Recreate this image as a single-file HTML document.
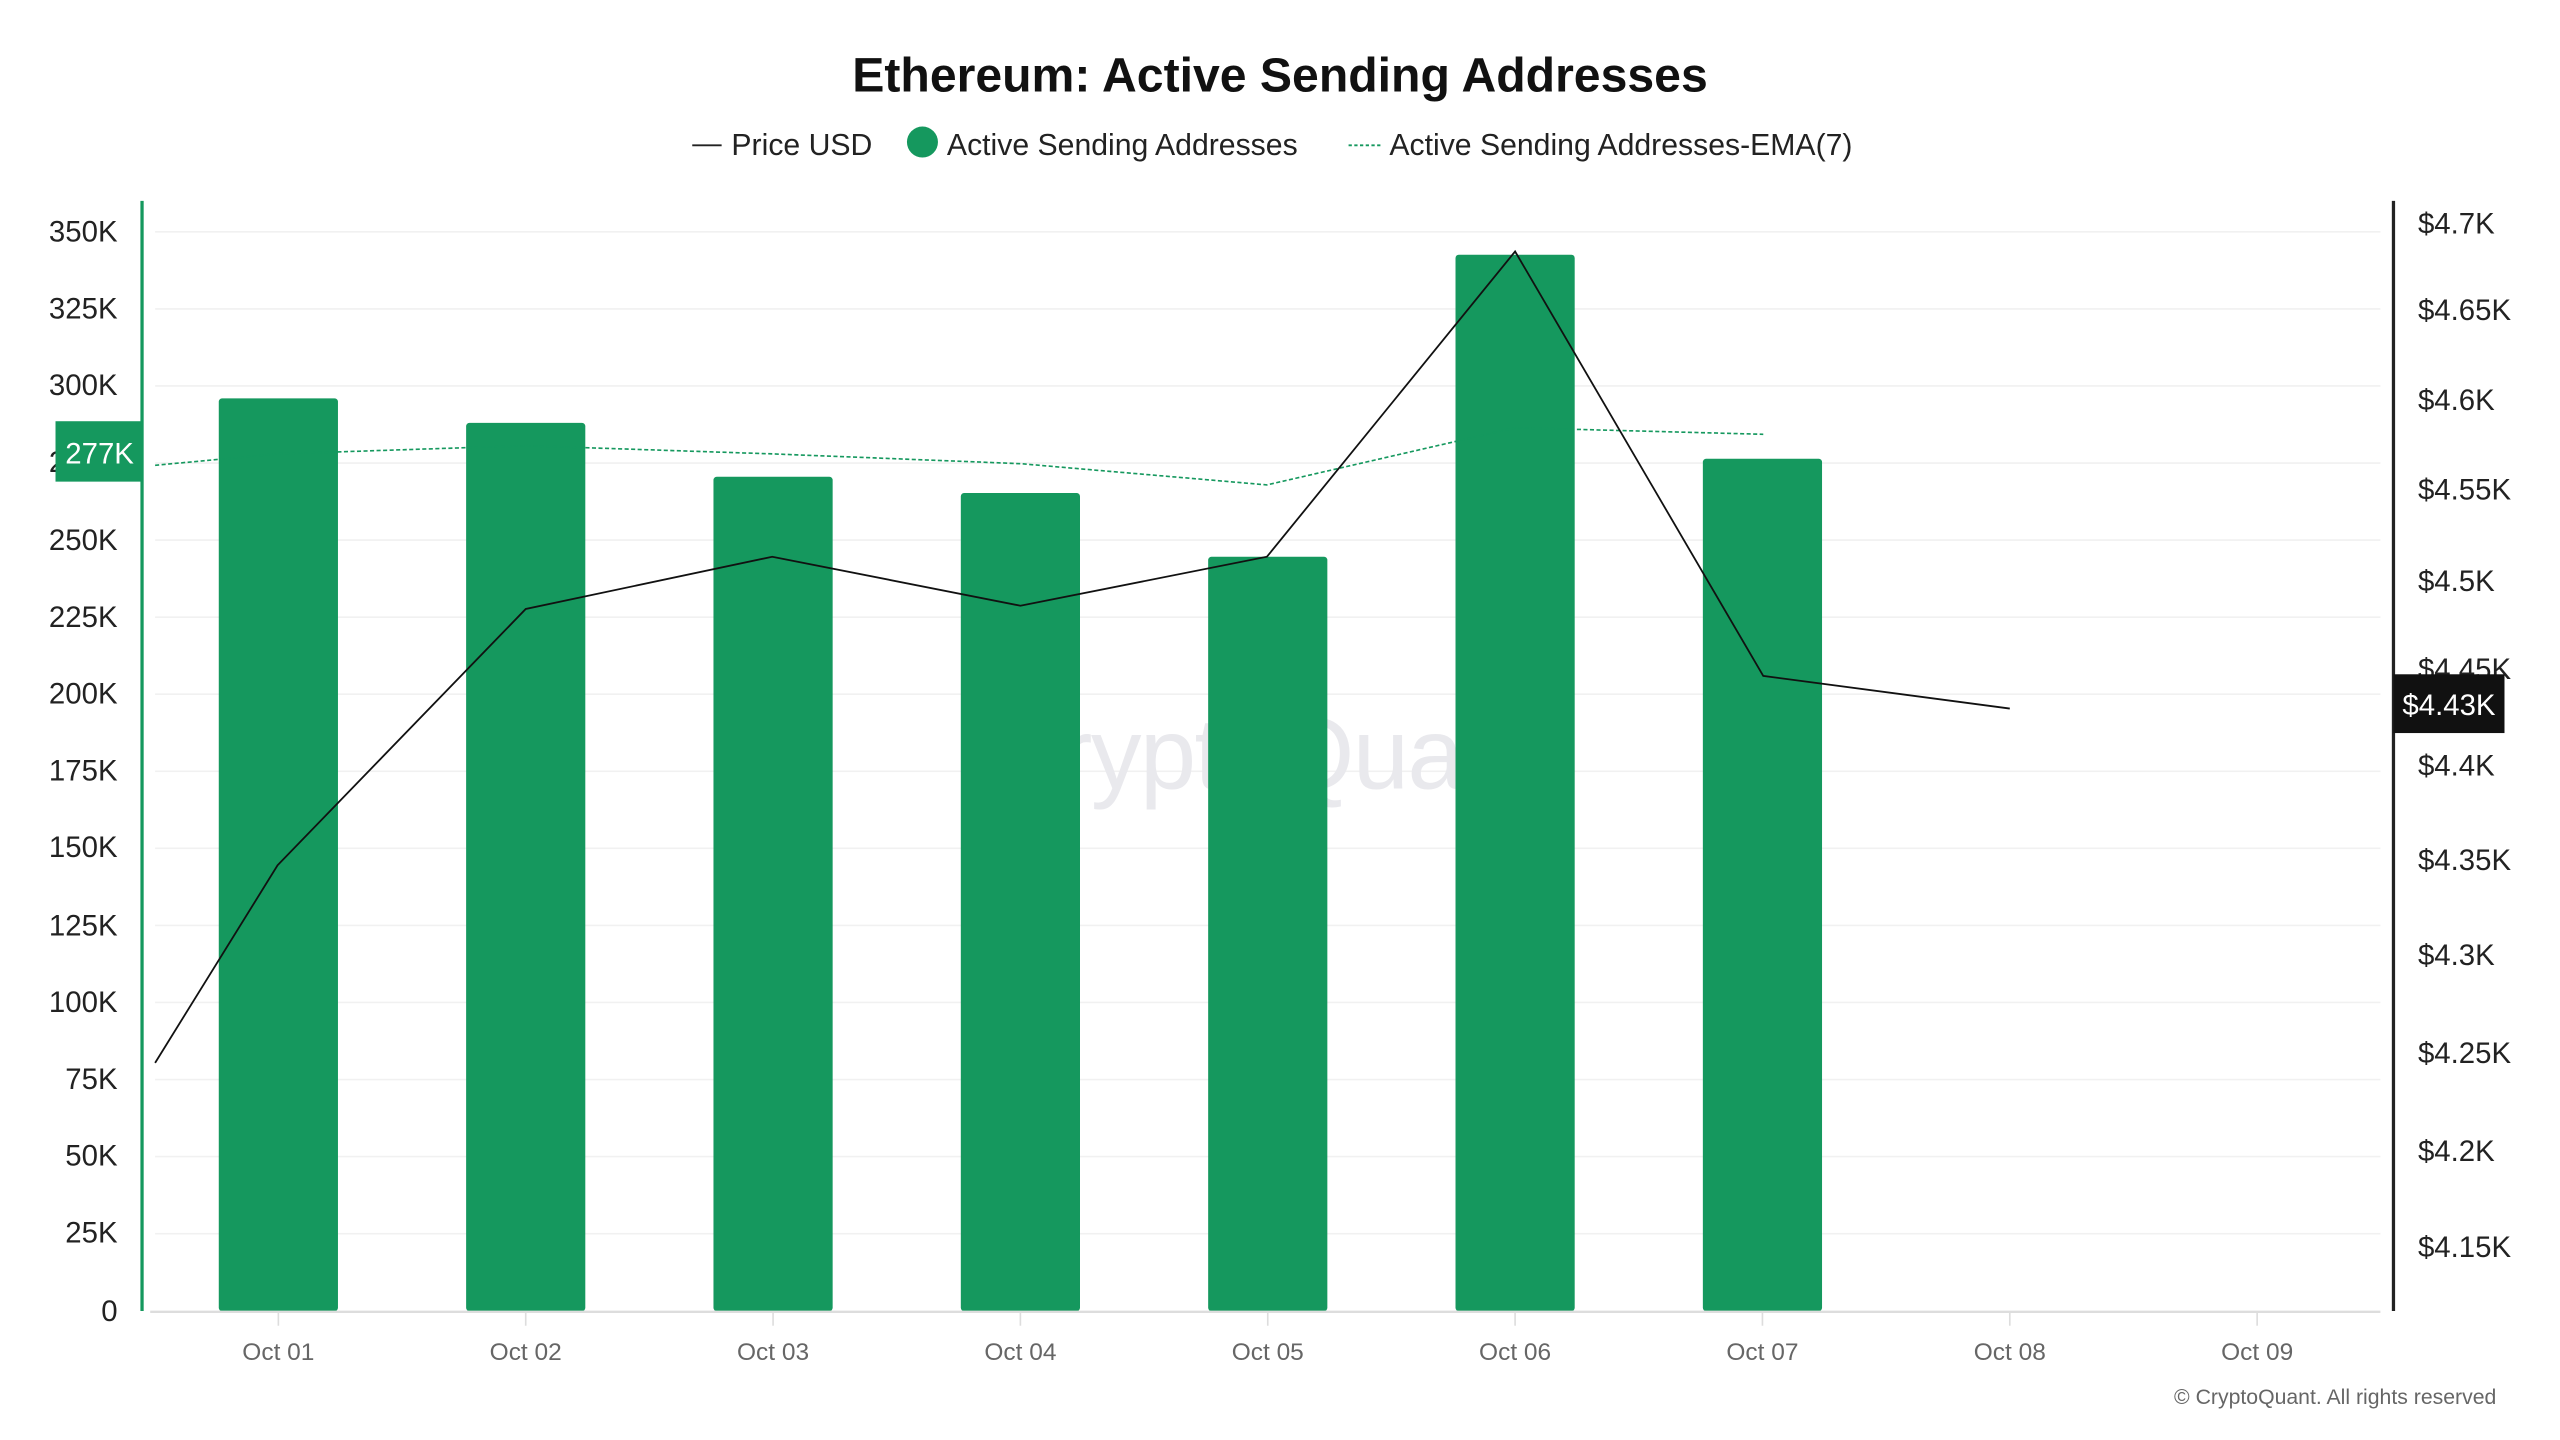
<!DOCTYPE html>
<html><head><meta charset="utf-8"><style>html,body{margin:0;padding:0;background:#fff}svg{display:block}text{font-family:"Liberation Sans",sans-serif}</style></head>
<body>
<svg width="2560" height="1440" viewBox="0 0 1568 882" preserveAspectRatio="none" xmlns="http://www.w3.org/2000/svg">
<rect width="1568" height="882" fill="#fff"/>
<text x="784" y="56" text-anchor="middle" font-size="29.5" font-weight="bold" fill="#111">Ethereum: Active Sending Addresses</text>
<line x1="424" y1="89" x2="442" y2="89" stroke="#222" stroke-width="1.2"/>
<text x="448" y="95" font-size="18.5" fill="#222">Price USD</text>
<circle cx="565" cy="87" r="9.5" fill="#15985e"/>
<text x="580" y="95" font-size="18.5" fill="#222">Active Sending Addresses</text>
<line x1="826" y1="89" x2="846" y2="89" stroke="#15985e" stroke-width="1.2" stroke-dasharray="2,1.5"/>
<text x="851" y="95" font-size="18.5" fill="#222">Active Sending Addresses-EMA(7)</text>
<g stroke="#f1f1f1" stroke-width="1">
<line x1="95" x2="1458" y1="142" y2="142"/><line x1="95" x2="1458" y1="189.2" y2="189.2"/><line x1="95" x2="1458" y1="236.4" y2="236.4"/><line x1="95" x2="1458" y1="283.6" y2="283.6"/><line x1="95" x2="1458" y1="330.8" y2="330.8"/><line x1="95" x2="1458" y1="378" y2="378"/><line x1="95" x2="1458" y1="425.2" y2="425.2"/><line x1="95" x2="1458" y1="472.4" y2="472.4"/><line x1="95" x2="1458" y1="519.6" y2="519.6"/><line x1="95" x2="1458" y1="566.8" y2="566.8"/><line x1="95" x2="1458" y1="614" y2="614"/><line x1="95" x2="1458" y1="661.2" y2="661.2"/><line x1="95" x2="1458" y1="708.4" y2="708.4"/><line x1="95" x2="1458" y1="755.6" y2="755.6"/>
</g>
<text x="775" y="483" text-anchor="middle" font-size="62" fill="#e9e9ed" letter-spacing="-1">CryptoQuant</text>
<g font-size="18" fill="#222" text-anchor="end">
<text x="72" y="148">350K</text><text x="72" y="195">325K</text><text x="72" y="242">300K</text><text x="72" y="289">275K</text><text x="72" y="337">250K</text><text x="72" y="384">225K</text><text x="72" y="431">200K</text><text x="72" y="478">175K</text><text x="72" y="525">150K</text><text x="72" y="573">125K</text><text x="72" y="620">100K</text><text x="72" y="667">75K</text><text x="72" y="714">50K</text><text x="72" y="761">25K</text><text x="72" y="809">0</text>
</g>
<g font-size="18" fill="#222">
<text x="1481" y="143">$4.7K</text><text x="1481" y="196">$4.65K</text><text x="1481" y="251">$4.6K</text><text x="1481" y="306">$4.55K</text><text x="1481" y="362">$4.5K</text><text x="1481" y="416">$4.45K</text><text x="1481" y="475">$4.4K</text><text x="1481" y="533">$4.35K</text><text x="1481" y="591">$4.3K</text><text x="1481" y="651">$4.25K</text><text x="1481" y="711">$4.2K</text><text x="1481" y="770">$4.15K</text>
</g>
<g fill="#15985e">
<rect x="134" y="244" width="73" height="559" rx="2"/>
<rect x="285.5" y="259" width="73" height="544" rx="2"/>
<rect x="437" y="292" width="73" height="511" rx="2"/>
<rect x="588.5" y="302" width="73" height="501" rx="2"/>
<rect x="740" y="341" width="73" height="462" rx="2"/>
<rect x="891.5" y="156" width="73" height="647" rx="2"/>
<rect x="1043" y="281" width="73" height="522" rx="2"/>
</g>
<line x1="92" y1="803.5" x2="1458" y2="803.5" stroke="#ddd" stroke-width="1.5"/>
<g stroke="#ddd" stroke-width="1">
<line x1="170.5" x2="170.5" y1="804" y2="812"/><line x1="322" x2="322" y1="804" y2="812"/><line x1="473.5" x2="473.5" y1="804" y2="812"/><line x1="625" x2="625" y1="804" y2="812"/><line x1="776.5" x2="776.5" y1="804" y2="812"/><line x1="928" x2="928" y1="804" y2="812"/><line x1="1079.5" x2="1079.5" y1="804" y2="812"/><line x1="1231" x2="1231" y1="804" y2="812"/><line x1="1382.5" x2="1382.5" y1="804" y2="812"/>
</g>
<g font-size="15" fill="#666" text-anchor="middle">
<text x="170.5" y="833">Oct 01</text><text x="322" y="833">Oct 02</text><text x="473.5" y="833">Oct 03</text><text x="625" y="833">Oct 04</text><text x="776.5" y="833">Oct 05</text><text x="928" y="833">Oct 06</text><text x="1079.5" y="833">Oct 07</text><text x="1231" y="833">Oct 08</text><text x="1382.5" y="833">Oct 09</text>
</g>
<polyline points="95,285 170,278 322,273 473,278 625,284 776,297 928,262 1080,266" fill="none" stroke="#15985e" stroke-width="1" stroke-dasharray="2.5,1.5"/>
<polyline points="95,651 170,530 322,373 473,341 625,371 776,341 928,154 1080,414 1231,434" fill="none" stroke="#111" stroke-width="1.1"/>
<line x1="87" y1="123" x2="87" y2="803" stroke="#15985e" stroke-width="2"/>
<line x1="1466" y1="123" x2="1466" y2="803" stroke="#222" stroke-width="2"/>
<rect x="34" y="258" width="53" height="37" fill="#15985e"/>
<text x="61" y="284" text-anchor="middle" font-size="18" fill="#fff">277K</text>
<rect x="1466" y="413" width="68" height="36" fill="#111"/>
<text x="1500" y="438" text-anchor="middle" font-size="18" fill="#fff">$4.43K</text>
<text x="1529" y="860" text-anchor="end" font-size="13" fill="#666">© CryptoQuant. All rights reserved</text>
</svg>
</body></html>
